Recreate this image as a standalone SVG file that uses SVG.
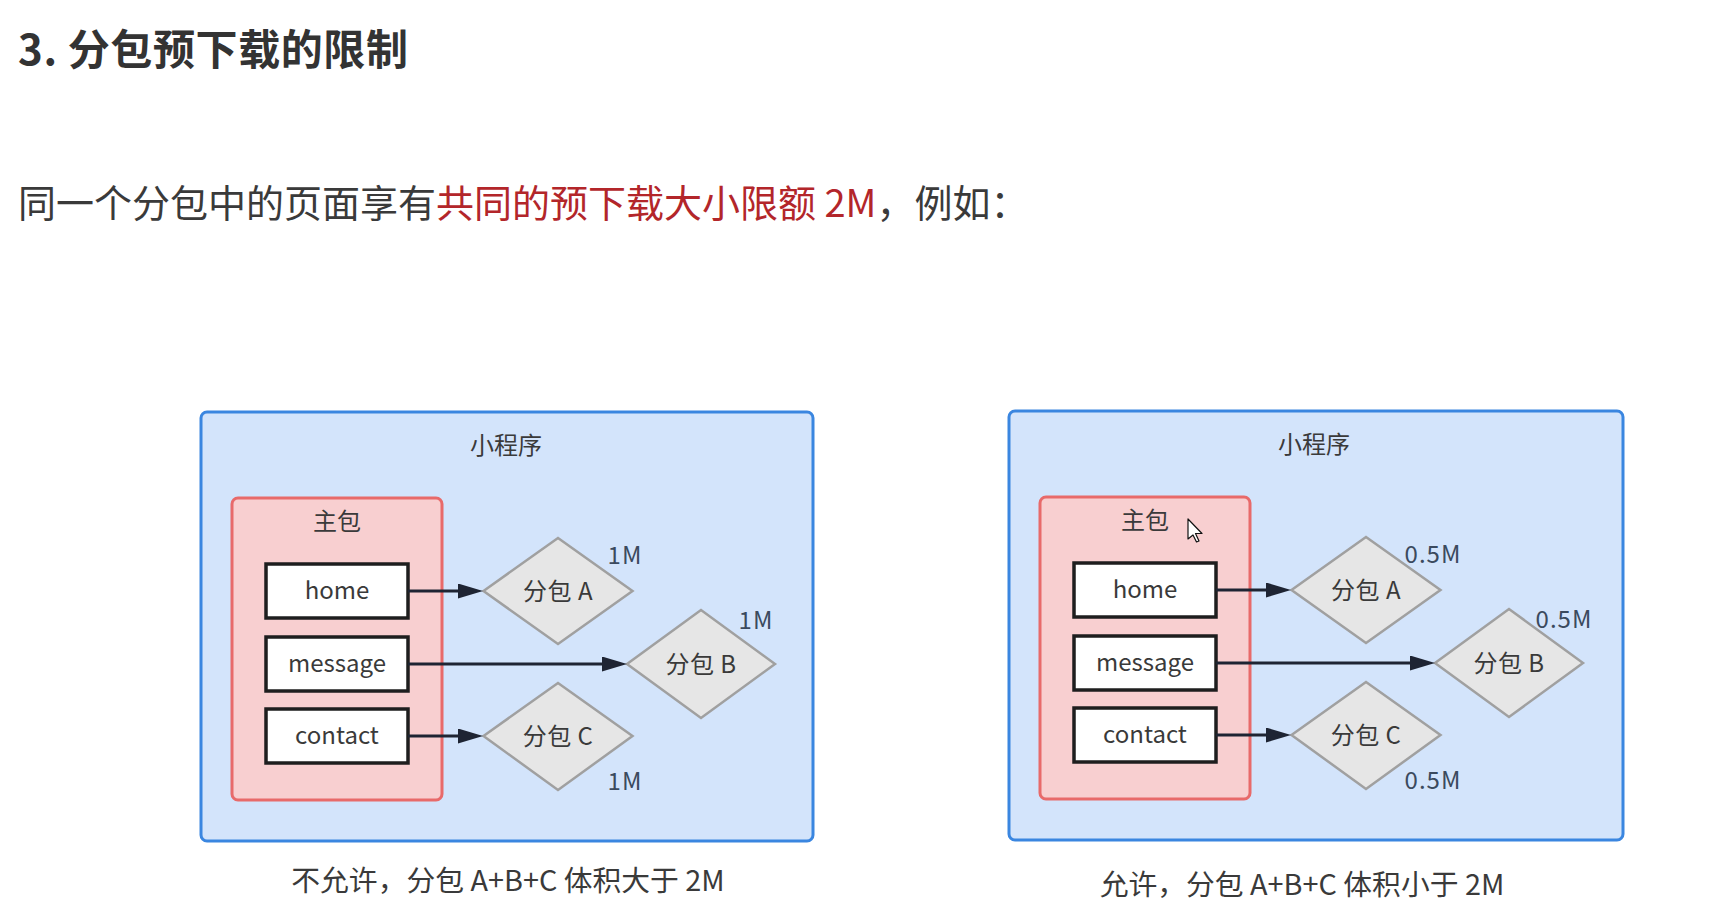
<svg xmlns="http://www.w3.org/2000/svg" width="1722" height="904" viewBox="0 0 1722 904">
  <style>
    text { font-family: "Noto Sans CJK SC", "Noto Sans", sans-serif; }
    .title { font-size: 42px; font-weight: bold; fill: #333333; letter-spacing: 0.6px; }
    .intro { font-size: 38px; fill: #3a3a3a; }
    .red { fill: #b3262a; }
    .app { fill: #d3e4fb; stroke: #3a86e0; stroke-width: 3; }
    .main { fill: #f8cfd0; stroke: #e86a6a; stroke-width: 3; }
    .page { fill: #ffffff; stroke: #1e1e1e; stroke-width: 3.5; }
    .sub { fill: #e6e6e6; stroke: #a0a0a0; stroke-width: 2.5; }
    .lbl { font-size: 24px; fill: #3a3a3a; text-anchor: middle; }
    .dl { font-size: 24px; fill: #3a3a3a; text-anchor: middle; letter-spacing: 0.5px; }
    .size { font-size: 24px; fill: #3b4a5e; text-anchor: middle; letter-spacing: 1px; }
    .cap { font-size: 28.8px; fill: #3a3a3a; text-anchor: middle; }
    .edge { stroke: #1e2433; stroke-width: 3; fill: none; marker-end: url(#arrow); }
  </style>
  <defs>
    <marker id="arrow" markerUnits="userSpaceOnUse" markerWidth="26" markerHeight="16" refX="15" refY="7.5" orient="auto">
      <path d="M0,0 L25,7.5 L0,15 z" fill="#1e2433"/>
    </marker>
  </defs>
  <rect width="1722" height="904" fill="#ffffff"/>

  <text class="title" x="18" y="65">3. 分包预下载的限制</text>
  <text class="intro" x="18" y="217">同一个分包中的页面享有<tspan class="red">共同的预下载大小限额 2M</tspan>，例如：</text>

  <!-- Left diagram -->
  <g id="left-diagram">
    <g id="L-app"><rect class="app" x="201" y="412" width="612" height="429" rx="6"/><text class="lbl" x="506" y="454">小程序</text></g>
    <g id="L-main"><rect class="main" x="232" y="498" width="210" height="302" rx="6"/><text class="lbl" x="337" y="530">主包</text></g>
    <g id="L-home"><rect class="page" x="266" y="564" width="142" height="54"/><text class="lbl" x="337" y="599">home</text></g>
    <g id="L-message"><rect class="page" x="266" y="637" width="142" height="54"/><text class="lbl" x="337" y="672">message</text></g>
    <g id="L-contact"><rect class="page" x="266" y="709" width="142" height="54"/><text class="lbl" x="337" y="744">contact</text></g>
    <g id="L-subA"><polygon class="sub" points="483.5,591 558,538 632.5,591 558,644"/><text class="dl" x="558" y="600">分包 A</text><text class="size" x="625" y="564">1M</text></g>
    <g id="L-subB"><polygon class="sub" points="627,664 701,610 775,664 701,718"/><text class="dl" x="701" y="673">分包 B</text><text class="size" x="756" y="629">1M</text></g>
    <g id="L-subC"><polygon class="sub" points="483.5,736 558,683 632.5,736 558,790"/><text class="dl" x="558" y="745">分包 C</text><text class="size" x="625" y="790">1M</text></g>
    <g id="L-connectors">
      <line class="edge" x1="408" y1="591" x2="473" y2="591"/>
      <line class="edge" x1="408" y1="664" x2="617" y2="664"/>
      <line class="edge" x1="408" y1="736" x2="473" y2="736"/>
    </g>
    <text class="cap" x="508" y="891">不允许，分包 A+B+C 体积大于 2M</text>
  </g>

  <!-- Right diagram -->
  <g id="right-diagram" transform="translate(808,-1)">
    <g id="R-app"><rect class="app" x="201" y="412" width="614" height="429" rx="6"/><text class="lbl" x="506" y="454">小程序</text></g>
    <g id="R-main"><rect class="main" x="232" y="498" width="210" height="302" rx="6"/><text class="lbl" x="337" y="530">主包</text></g>
    <g id="R-home"><rect class="page" x="266" y="564" width="142" height="54"/><text class="lbl" x="337" y="599">home</text></g>
    <g id="R-message"><rect class="page" x="266" y="637" width="142" height="54"/><text class="lbl" x="337" y="672">message</text></g>
    <g id="R-contact"><rect class="page" x="266" y="709" width="142" height="54"/><text class="lbl" x="337" y="744">contact</text></g>
    <g id="R-subA"><polygon class="sub" points="483.5,591 558,538 632.5,591 558,644"/><text class="dl" x="558" y="600">分包 A</text><text class="size" x="625" y="564">0.5M</text></g>
    <g id="R-subB"><polygon class="sub" points="627,664 701,610 775,664 701,718"/><text class="dl" x="701" y="673">分包 B</text><text class="size" x="756" y="629">0.5M</text></g>
    <g id="R-subC"><polygon class="sub" points="483.5,736 558,683 632.5,736 558,790"/><text class="dl" x="558" y="745">分包 C</text><text class="size" x="625" y="790">0.5M</text></g>
    <g id="R-connectors">
      <line class="edge" x1="408" y1="591" x2="473" y2="591"/>
      <line class="edge" x1="408" y1="664" x2="617" y2="664"/>
      <line class="edge" x1="408" y1="736" x2="473" y2="736"/>
    </g>
    <text class="cap" x="494" y="896">允许，分包 A+B+C 体积小于 2M</text>
    <path d="M380,520 L380,540 L385,536 L388.5,543 L391,542 L387.5,534.5 L394,534.5 Z" fill="#ffffff" stroke="#111111" stroke-width="1.2" stroke-linejoin="round"/>
  </g>
</svg>
